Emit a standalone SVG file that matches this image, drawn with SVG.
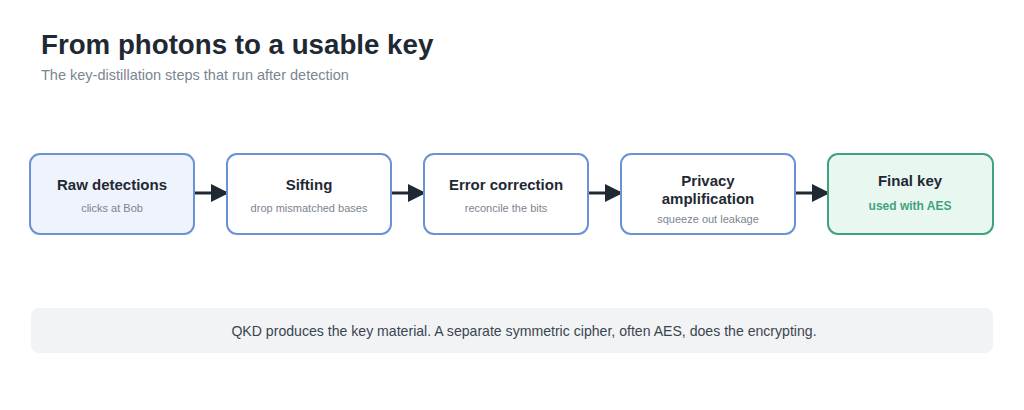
<svg xmlns="http://www.w3.org/2000/svg" width="1024" height="410" viewBox="0 0 1024 410">
<style>
.t{font-family:"Liberation Sans",Arial,sans-serif;font-weight:bold;font-size:15px;fill:#1f2933;text-anchor:middle}
.s{font-family:"Liberation Sans",Arial,sans-serif;font-size:11px;fill:#7b8591;text-anchor:middle}
.b{fill:#fff;stroke:#6a93d6;stroke-width:2}
.c{stroke:#1f2933;stroke-width:3;fill:none}
</style>
<defs><marker id="a" markerWidth="6" markerHeight="6" refX="5" refY="3" orient="auto" markerUnits="strokeWidth"><path d="M0,0 L6,3 L0,6 Z" fill="#1f2933"/></marker></defs>
<rect width="1024" height="410" fill="#fff"/>
<text x="41" y="54" font-family="Liberation Sans,Arial,sans-serif" font-weight="bold" font-size="27.7" fill="#1f2933">From photons to a usable key</text>
<text x="41" y="80" font-family="Liberation Sans,Arial,sans-serif" font-size="14.5" fill="#7b8591">The key-distillation steps that run after detection</text>
<g id="connectors">
<line class="c" x1="195" y1="193" x2="226" y2="193" marker-end="url(#a)"/>
<line class="c" x1="392" y1="193" x2="423" y2="193" marker-end="url(#a)"/>
<line class="c" x1="589" y1="193" x2="620" y2="193" marker-end="url(#a)"/>
<line class="c" x1="796" y1="193" x2="827" y2="193" marker-end="url(#a)"/>
</g>
<g id="raw"><rect class="b" x="30" y="154" width="164" height="80" rx="10" style="fill:#eef3fc"/><text class="t" x="112" y="190">Raw detections</text><text class="s" x="112" y="212">clicks at Bob</text></g>
<g id="sifting"><rect class="b" x="227" y="154" width="164" height="80" rx="10"/><text class="t" x="309" y="190">Sifting</text><text class="s" x="309" y="212">drop mismatched bases</text></g>
<g id="error"><rect class="b" x="424" y="154" width="164" height="80" rx="10"/><text class="t" x="506" y="190">Error correction</text><text class="s" x="506" y="212">reconcile the bits</text></g>
<g id="privacy"><rect class="b" x="621" y="154" width="174" height="80" rx="10"/><text class="t" x="708" y="186">Privacy</text><text class="t" x="708" y="204">amplification</text><text class="s" x="708" y="223">squeeze out leakage</text></g>
<g id="final"><rect x="828" y="154" width="165" height="80" rx="10" fill="#e9f7f1" stroke="#3fa37e" stroke-width="2"/><text class="t" x="910" y="186">Final key</text><text x="910" y="210" font-family="Liberation Sans,Arial,sans-serif" font-weight="bold" font-size="12" fill="#3fa37e" text-anchor="middle">used with AES</text></g>
<g id="note"><rect x="31" y="308" width="962" height="45" rx="8" fill="#f1f3f5"/><text x="524" y="336" font-family="Liberation Sans,Arial,sans-serif" font-size="14.1" fill="#3b4550" text-anchor="middle">QKD produces the key material. A separate symmetric cipher, often AES, does the encrypting.</text></g>
</svg>
